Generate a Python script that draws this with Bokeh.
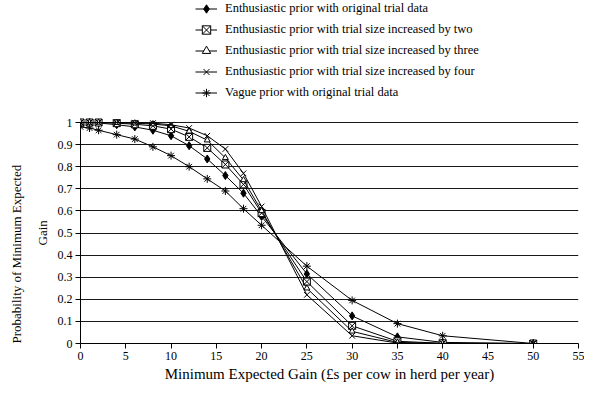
from bokeh.plotting import figure
from bokeh.models import Legend, LegendItem, Range1d, FixedTicker, Title
from bokeh.embed import file_html
from bokeh.resources import INLINE

gain = [0, 1, 2, 4, 6, 8, 10, 12, 14, 16, 18, 20, 25, 30, 35, 40, 50]
enth_orig = [1.0, 1.0, 0.998, 0.99, 0.98, 0.965, 0.94, 0.895, 0.835, 0.76, 0.68, 0.575, 0.315, 0.125, 0.03, 0.005, 0.0]
enth_two = [1.0, 1.0, 1.0, 0.997, 0.992, 0.985, 0.97, 0.935, 0.885, 0.81, 0.72, 0.59, 0.28, 0.08, 0.01, 0.001, 0.0]
enth_three = [1.0, 1.0, 1.0, 0.999, 0.997, 0.993, 0.985, 0.96, 0.92, 0.84, 0.74, 0.60, 0.25, 0.055, 0.005, 0.0, 0.0]
enth_four = [1.0, 1.0, 1.0, 1.0, 0.999, 0.997, 0.99, 0.975, 0.94, 0.88, 0.77, 0.62, 0.22, 0.035, 0.002, 0.0, 0.0]
vague = [0.98, 0.975, 0.965, 0.945, 0.925, 0.89, 0.85, 0.80, 0.745, 0.69, 0.61, 0.535, 0.35, 0.195, 0.09, 0.035, 0.0]

labels = [
    "Enthusiastic prior with original trial data",
    "Enthusiastic prior with trial size increased by two",
    "Enthusiastic prior with trial size increased by three",
    "Enthusiastic prior with trial size increased by four",
    "Vague prior with original trial data",
]
x_ticks = [0, 5, 10, 15, 20, 25, 30, 35, 40, 45, 50, 55]
y_ticks = [0, 0.1, 0.2, 0.3, 0.4, 0.5, 0.6, 0.7, 0.8, 0.9, 1.0]
x_title = "Minimum Expected Gain (£s per cow in herd per year)"
y_title_lines = ["Probability of Minimum Expected", "Gain"]

FONT = "Liberation Serif"
W, H = 584, 387
LEFT, RIGHT, BOTTOM = 80, 6, 44
frame_h = H - BOTTOM
y_one_px = 122  # pixel row of probability 1 from top
y_top = frame_h / (frame_h - y_one_px)

p = figure(width=W, height=H, output_backend="svg", toolbar_location=None,
           x_range=Range1d(0, 55), y_range=Range1d(0, y_top),
           min_border_left=LEFT, min_border_right=RIGHT, min_border_bottom=BOTTOM, min_border_top=0)
p.outline_line_color = None
p.background_fill_color = "white"

p.xgrid.grid_line_color = None
p.ygrid.grid_line_color = "#1a1a1a"
p.ygrid.grid_line_width = 1

p.xaxis.ticker = FixedTicker(ticks=x_ticks)
p.yaxis.ticker = FixedTicker(ticks=y_ticks)
p.yaxis.bounds = (0, 1)
p.xaxis.bounds = (0, 55)
for ax in (p.xaxis, p.yaxis):
    ax.axis_line_color = "black"
    ax.major_tick_line_color = "black"
    ax.minor_tick_line_color = None
    ax.major_tick_out = 5
    ax.major_tick_in = 0
    ax.major_label_text_font = FONT
    ax.major_label_text_font_size = "12px"
    ax.major_label_text_color = "black"
    ax.major_label_standoff = 3
    ax.axis_label_text_font = FONT
    ax.axis_label_text_font_style = "normal"
    ax.axis_label_text_color = "black"
    ax.axis_label_standoff = 3

p.xaxis.axis_label = x_title
p.xaxis.axis_label_text_font_size = "15px"

# y-axis title: two lines, centred on the 0..1 span of the axis
gain_w = 25
t_gain = Title(text=y_title_lines[1], align="left", offset=(frame_h - (y_one_px + frame_h) / 2) - gain_w / 2,
               text_font=FONT, text_font_size="13px", text_font_style="normal", text_color="black",
               standoff=9)
t_prob = Title(text=y_title_lines[0], align="left", offset=0,
               text_font=FONT, text_font_size="13px", text_font_style="normal", text_color="black",
               standoff=10)
p.add_layout(t_gain, "left")
p.add_layout(t_prob, "left")

series = [enth_orig, enth_two, enth_three, enth_four, vague]
markers = ["diamond", "square_x", "triangle", "x", "asterisk"]
fills = ["black", "white", "white", "black", "black"]
sizes = [8, 7, 6, 8, 8]

items = []
for ys, mk, fc, sz, lab in zip(series, markers, fills, sizes, labels):
    lr = p.line(gain, ys, line_color="black", line_width=1)
    sr = p.scatter(gain, ys, marker=mk, size=sz, fill_color=fc, line_color="black", line_width=1)
    items.append(LegendItem(label=lab, renderers=[lr, sr]))

row_h = 21
legend = Legend(items=items, location=(115, frame_h - 5 * row_h + 2), orientation="vertical",
                label_text_font=FONT, label_text_font_size="12.5px", label_text_color="black",
                label_height=row_h, glyph_height=row_h, glyph_width=22, spacing=0, padding=0, margin=0,
                label_standoff=8, border_line_color=None, background_fill_alpha=0)
p.add_layout(legend, "center")

open("out.html", "w").write(file_html(p, INLINE))
